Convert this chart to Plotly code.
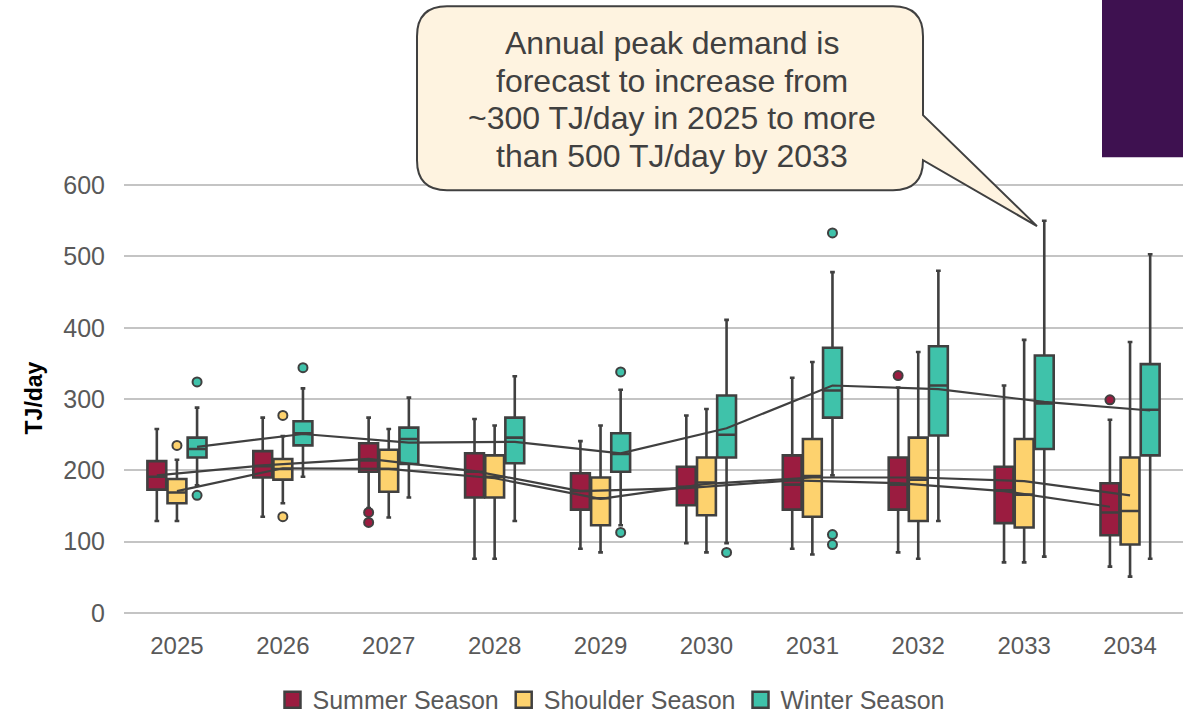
import plotly.graph_objects as go

# ---------------- data ----------------
years = [2025, 2026, 2027, 2028, 2029, 2030, 2031, 2032, 2033, 2034]
year_labels = [str(y) for y in years]
season_names = ["Summer Season", "Shoulder Season", "Winter Season"]
y_ticks = [0, 100, 200, 300, 400, 500, 600]

summer_lower = [129, 135, 147, 76, 90, 98, 90, 85, 71, 65]
summer_q1 = [173, 190, 198, 162, 145, 151, 145, 145, 126, 109]
summer_median = [191, 206, 214, 198, 171, 177, 180, 180, 172, 141]
summer_q3 = [213, 227, 238, 224, 196, 205, 221, 218, 205, 182]
summer_upper = [258, 274, 274, 272, 241, 277, 330, 316, 319, 271]
summer_mean = [193, 207, 216, 199, 171, 175, 186, 182, 171, 149]
summer_out_years = [2027, 2027, 2032, 2034]
summer_out_vals = [141, 127, 333, 299]

shoulder_lower = [129, 154, 134, 76, 85, 85, 82, 76, 71, 51]
shoulder_q1 = [154, 187, 170, 162, 123, 137, 135, 129, 120, 96]
shoulder_median = [169, 202, 202, 191, 161, 183, 192, 187, 166, 143]
shoulder_q3 = [188, 216, 229, 221, 190, 218, 244, 246, 244, 218]
shoulder_upper = [215, 248, 258, 263, 263, 286, 352, 366, 383, 380]
shoulder_mean = [171, 203, 202, 189, 160, 181, 190, 190, 185, 165]
shoulder_out_years = [2025, 2026, 2026]
shoulder_out_vals = [235, 277, 135]

winter_lower = [179, 191, 162, 129, 123, 98, 193, 129, 79, 76]
winter_q1 = [218, 235, 209, 210, 198, 218, 274, 249, 230, 221]
winter_median = [230, 252, 244, 246, 223, 250, 312, 319, 294, 285]
winter_q3 = [246, 269, 260, 274, 252, 305, 372, 374, 361, 349]
winter_upper = [288, 315, 302, 332, 313, 411, 478, 480, 550, 503]
winter_mean = [233, 251, 239, 240, 224, 259, 319, 314, 296, 284]
winter_out_years = [2025, 2025, 2026, 2029, 2029, 2030, 2031, 2031, 2031]
winter_out_vals = [324, 165, 344, 338, 113, 85, 533, 110, 96]

callout_lines = [
    "Annual peak demand is",
    "forecast to increase from",
    "~300 TJ/day in 2025 to more",
    "than 500 TJ/day by 2033",
]

# ---------------- style ----------------
FONT = "Liberation Sans, Arial, sans-serif"
DARK = "#404040"
GREY_TXT = "#595959"
colors = ["#9B1C40", "#FDD26E", "#3FC2AA"]
offsets = [-0.19, 0.0, 0.19]
BOX_W = 0.178

W, H = 1183, 714
Y_MAX = 603                      # small headroom so the 600 gridline is drawn
MB = 101
PH = 428 * Y_MAX / 600           # 600 lands at pixel 185
MT = H - MB - PH
ML, MR = 124, 0
PW = W - ML - MR


def px(xp):
    return (xp - ML) / PW


def py(yp):
    return (H - MB - yp) / PH


series = [
    (summer_lower, summer_q1, summer_median, summer_q3, summer_upper, summer_mean,
     summer_out_years, summer_out_vals),
    (shoulder_lower, shoulder_q1, shoulder_median, shoulder_q3, shoulder_upper, shoulder_mean,
     shoulder_out_years, shoulder_out_vals),
    (winter_lower, winter_q1, winter_median, winter_q3, winter_upper, winter_mean,
     winter_out_years, winter_out_vals),
]

fig = go.Figure()

for i, (lo, q1, med, q3, up, mean, oy, ov) in enumerate(series):
    xs = [y + offsets[i] for y in years]
    fig.add_trace(go.Box(
        x=xs, lowerfence=lo, q1=q1, median=med, q3=q3, upperfence=up,
        width=BOX_W, fillcolor=colors[i],
        line=dict(color=DARK, width=2.6), whiskerwidth=0.25,
        boxpoints=False, showlegend=False, name=season_names[i],
        hoverinfo="skip",
    ))

for i, (lo, q1, med, q3, up, mean, oy, ov) in enumerate(series):
    xs = [y + offsets[i] for y in years]
    fig.add_trace(go.Scatter(
        x=xs, y=mean, mode="lines", line=dict(color=DARK, width=2.2),
        showlegend=False, hoverinfo="skip",
    ))
    fig.add_trace(go.Scatter(
        x=[y + offsets[i] for y in oy], y=ov, mode="markers",
        marker=dict(size=9, color=colors[i], line=dict(color=DARK, width=2)),
        showlegend=False, hoverinfo="skip",
    ))

for i in range(3):
    fig.add_trace(go.Scatter(
        x=[None], y=[None], mode="markers", name=season_names[i],
        marker=dict(symbol="square", size=16, color=colors[i],
                    line=dict(color=DARK, width=2.5)),
    ))

# callout bubble
L, R, T, B, r = 417, 923, 6, 190, 30
tail_a, tail_b, tip = (R, 115), (R, 160), (1037, 226)


def P(x, y):
    return f"{px(x):.5f},{py(y):.5f}"


path = (
    f"M {P(L + r, T)} L {P(R - r, T)} Q {P(R, T)} {P(R, T + r)} "
    f"L {P(*tail_a)} L {P(*tip)} L {P(*tail_b)} "
    f"L {P(R, B - r)} Q {P(R, B)} {P(R - r, B)} "
    f"L {P(L + r, B)} Q {P(L, B)} {P(L, B - r)} "
    f"L {P(L, T + r)} Q {P(L, T)} {P(L + r, T)} Z"
)

shapes = [
    dict(type="path", path=path, xref="paper", yref="paper",
         fillcolor="#FEF3E0", line=dict(color=DARK, width=2), layer="above"),
    dict(type="rect", xref="paper", yref="paper",
         x0=px(1102), x1=px(1184), y0=py(157), y1=py(-2),
         fillcolor="#3E1150", line=dict(width=0), layer="above"),
]

annotations = []
line_centers = [43, 80.5, 118, 155.5]
for txt, yc in zip(callout_lines, line_centers):
    annotations.append(dict(
        text=txt, x=px(672), y=py(yc), xref="paper", yref="paper",
        xanchor="center", yanchor="middle", showarrow=False,
        font=dict(family=FONT, size=32, color=DARK),
    ))

fig.update_layout(
    width=W, height=H,
    margin=dict(l=ML, r=MR, t=MT, b=MB, pad=0, autoexpand=False),
    paper_bgcolor="white", plot_bgcolor="white",
    boxmode="overlay",
    font=dict(family=FONT, color=GREY_TXT),
    shapes=shapes, annotations=annotations,
    legend=dict(
        orientation="h", x=px(611), xanchor="center", y=py(700), yanchor="middle",
        font=dict(family=FONT, size=25, color=GREY_TXT),
        bgcolor="rgba(0,0,0,0)", itemclick=False,
    ),
    xaxis=dict(
        range=[2024.5, 2034.5], tickmode="array", tickvals=years, ticktext=year_labels,
        showgrid=False, zeroline=False, showline=False, ticks="",
        tickfont=dict(family=FONT, size=24, color=GREY_TXT),
        ticklabelstandoff=16, fixedrange=True,
    ),
    yaxis=dict(
        range=[0, Y_MAX], tickmode="array", tickvals=y_ticks,
        showgrid=True, gridcolor="#C4C4C4", gridwidth=2,
        zeroline=True, zerolinecolor="#C4C4C4", zerolinewidth=2,
        showline=False, ticks="",
        tickfont=dict(family=FONT, size=25, color=GREY_TXT),
        ticklabelstandoff=18,
        title=dict(text="<b>TJ/day</b>", standoff=14,
                   font=dict(family=FONT, size=23, color="#000000")),
        fixedrange=True,
    ),
)

# remove the browser's default 8px page margin so the figure sits at the window origin
fig.write_html(
    "out.html",
    config={"displayModeBar": False},
    post_script="document.body.style.margin='0px';document.body.style.overflow='hidden';",
)
